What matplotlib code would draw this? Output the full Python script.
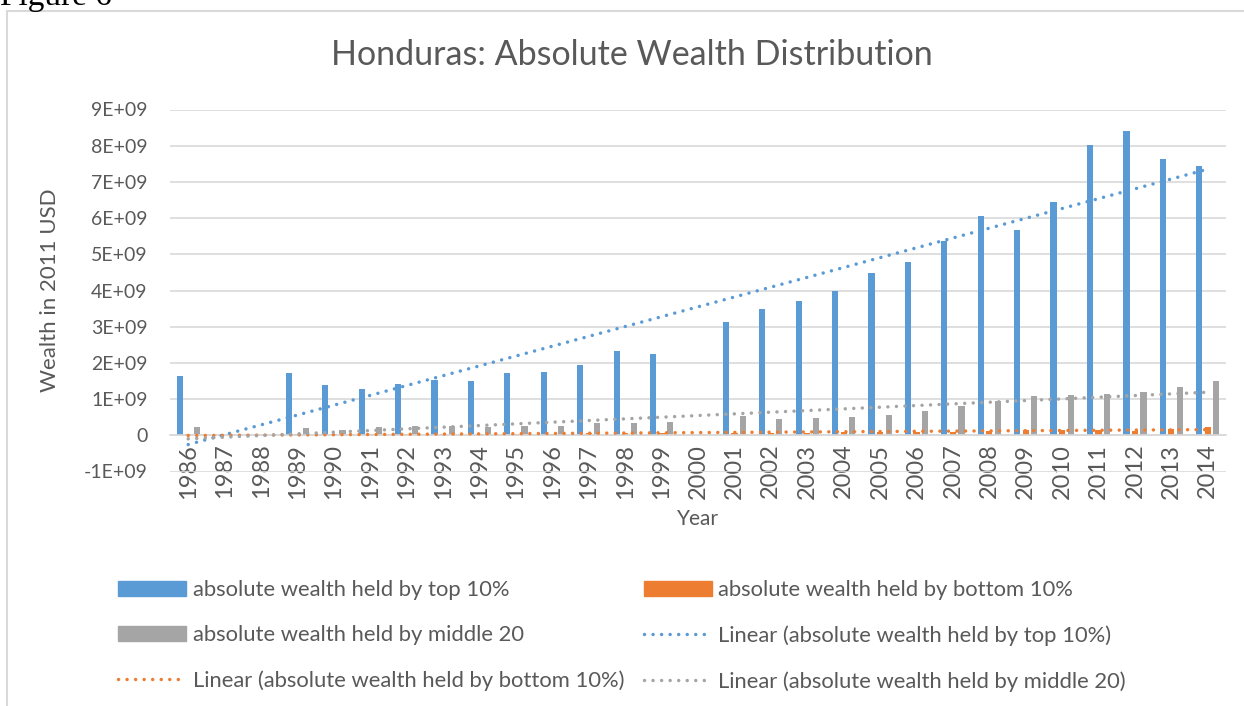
import numpy as np
import matplotlib
matplotlib.use("Agg")
import matplotlib.pyplot as plt
from matplotlib.patches import Patch, Rectangle
from matplotlib.lines import Line2D

plt.rcParams['font.family'] = ['Lato', 'DejaVu Sans']

# Data (wealth in 2011 USD; None = no data)
years = [str(y) for y in range(1986, 2015)]
top10 = [1.65e9, None, None, 1.72e9, 1.40e9, 1.27e9, 1.42e9, 1.52e9, 1.50e9, 1.72e9,
         1.76e9, 1.93e9, 2.33e9, 2.25e9, None, 3.12e9, 3.48e9, 3.72e9, 3.98e9, 4.48e9,
         4.78e9, 5.38e9, 6.05e9, 5.67e9, 6.45e9, 8.03e9, 8.40e9, 7.62e9, 7.43e9]
bottom10 = [0.03e9, None, None, 0.03e9, 0.03e9, 0.03e9, 0.03e9, 0.04e9, 0.04e9, 0.04e9,
            0.04e9, 0.05e9, 0.05e9, 0.05e9, None, 0.07e9, 0.06e9, 0.07e9, 0.08e9, 0.08e9,
            0.09e9, 0.10e9, 0.12e9, 0.15e9, 0.16e9, 0.14e9, 0.13e9, 0.17e9, 0.22e9]
middle20 = [0.23e9, None, None, 0.19e9, 0.16e9, 0.22e9, 0.25e9, 0.25e9, 0.22e9, 0.25e9,
            0.25e9, 0.35e9, 0.33e9, 0.36e9, None, 0.53e9, 0.44e9, 0.48e9, 0.51e9, 0.55e9,
            0.66e9, 0.81e9, 0.94e9, 1.08e9, 1.12e9, 1.15e9, 1.20e9, 1.33e9, 1.49e9]
yticks = [-1e9, 0, 1e9, 2e9, 3e9, 4e9, 5e9, 6e9, 7e9, 8e9, 9e9]

series = [
    ("absolute wealth held by top 10%", top10, "#5B9BD5"),
    ("absolute wealth held by bottom 10%", bottom10, "#ED7D31"),
    ("absolute wealth held by middle 20", middle20, "#A5A5A5"),
]

txt = "#595959"
grid = "#D9D9D9"
dots = (0, (0.01, 2.45))

W, H = 1244, 706
fig = plt.figure(figsize=(W / 100, H / 100), dpi=100)
ax = fig.add_axes([170 / W, 1 - 471.5 / H, (1226 - 170) / W, (471.5 - 109.5) / H])

x = np.arange(len(years))
width = 0.17
offsets = [-0.235, 0.0, 0.235]

for (name, vals, col), off in zip(series, offsets):
    v = np.array([np.nan if a is None else a for a in vals], dtype=float)
    ax.bar(x + off, np.nan_to_num(v), width, color=col, zorder=2)

# Linear trendlines (Excel style: blanks ignored)
for name, vals, col in series:
    v = np.array([np.nan if a is None else a for a in vals], dtype=float)
    ok = ~np.isnan(v)
    k, b = np.polyfit(x[ok], v[ok], 1)
    ax.plot(x, k * x + b, color=col, lw=2.5, linestyle=dots,
            dash_capstyle='round', zorder=3)

for s in ['top', 'right', 'left']:
    ax.spines[s].set_visible(False)
ax.spines['bottom'].set_position(('data', 0))
ax.spines['bottom'].set_color(grid)
ax.spines['bottom'].set_linewidth(1.2)

ax.set_xlim(-0.5, len(years) - 0.5)
ax.set_ylim(-1e9, 9e9)
ax.set_yticks(yticks)
ax.set_yticklabels(["0" if t == 0 else "{:.0E}".format(t) for t in yticks])
ax.set_xticks(x)
ax.set_xticklabels(years)
ax.grid(axis='y', color=grid, lw=1.2, zorder=0)
ax.set_axisbelow(True)

ax.tick_params(axis='y', length=0, pad=16, labelsize=14, labelcolor=txt)
ax.tick_params(axis='x', length=0, pad=6, labelsize=17, labelcolor=txt,
               labelrotation=90)

ax.set_ylabel("Wealth in 2011 USD", fontsize=16, color=txt)
ax.yaxis.set_label_coords(-0.104, 0.5)
ax.set_xlabel("Year", fontsize=15, color=txt, va='top')
ax.xaxis.set_label_coords(0.5, -0.104)

fig.text(632 / W, 1 - 55 / H, "Honduras: Absolute Wealth Distribution",
         fontsize=24.5, color=txt, ha='center', va='center')

fig.text(0, 1 - 5 / H, "Figure 6", family='Liberation Serif', fontsize=24,
         color='black', ha='left', va='baseline')

# chart frame
fig.patches.append(Rectangle((7 / W, -0.05), 1.2, 1 - 11 / H + 0.05,
                             transform=fig.transFigure, fill=False,
                             edgecolor=grid, lw=1.5))

handles = [
    Patch(color=series[0][2]),
    Patch(color=series[2][2]),
    Line2D([], [], color=series[1][2], lw=2.5, linestyle=dots, dash_capstyle='round'),
    Patch(color=series[1][2]),
    Line2D([], [], color=series[0][2], lw=2.5, linestyle=dots, dash_capstyle='round'),
    Line2D([], [], color=series[2][2], lw=2.5, linestyle=dots, dash_capstyle='round'),
]
labels = [
    series[0][0], series[2][0], "Linear (" + series[1][0] + ")",
    series[1][0], "Linear (" + series[0][0] + ")", "Linear (" + series[2][0] + ")",
]
leg = fig.legend(handles, labels, ncol=2, loc='upper left',
                 bbox_to_anchor=(118 / W, 1 - 580 / H), frameon=False,
                 fontsize=15.8, labelcolor=txt, borderpad=0, borderaxespad=0,
                 handlelength=3.1, handletextpad=0.3, labelspacing=1.15,
                 columnspacing=0.9)

fig.savefig("out.png", dpi=100)
